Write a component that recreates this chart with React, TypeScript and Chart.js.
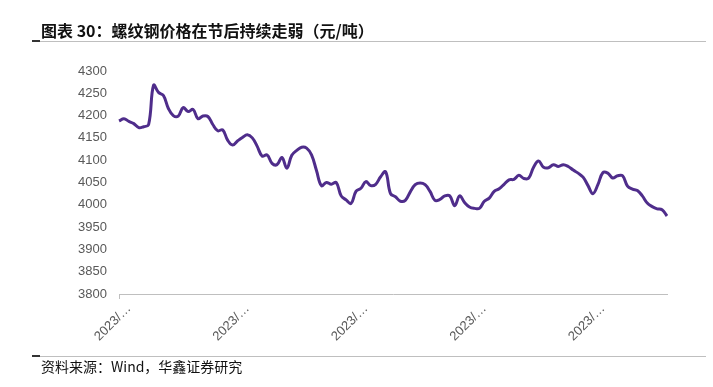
import React, { useEffect, useRef } from "react";
import { Chart, registerables } from "chart.js";

Chart.register(...registerables);

const TITLE = "图表 30：螺纹钢价格在节后持续走弱（元/吨）";
const SOURCE = "资料来源：Wind，华鑫证券研究";
const TICK_LABEL = "2023/…";
const TICK_EVERY = 24;
const Y_MIN = 3800;
const Y_MAX = 4300;
const Y_STEP = 50;

// Rebar price (yuan/ton)
const PRICES: number[] = [
  4188, 4193, 4187, 4182, 4173, 4175, 4180, 4268, 4252, 4245,
  4216, 4200, 4199, 4218, 4209, 4214, 4193, 4199, 4198, 4180,
  4166, 4168, 4145, 4134, 4143, 4151, 4157, 4150, 4131, 4109,
  4112, 4093, 4090, 4106, 4082, 4111, 4122, 4129, 4127, 4112,
  4077, 4043, 4050, 4046, 4050, 4020, 4011, 4003, 4030, 4037,
  4052, 4043, 4046, 4063, 4074, 4025, 4018, 4008, 4010, 4029,
  4045, 4049, 4045, 4030, 4010, 4012, 4020, 4020, 3998, 4020,
  4005, 3995, 3992, 3992, 4008, 4015, 4030, 4036, 4046, 4056,
  4057, 4066, 4059, 4060, 4085, 4098, 4084, 4083, 4090, 4086,
  4090, 4086, 4078, 4071, 4062, 4043, 4025, 4045, 4072, 4071,
  4060, 4065, 4065, 4042, 4035, 4032, 4020, 4004, 3996, 3991,
  3989, 3975,
];

// Category labels: trading days of 2023 (weekdays), one per price
const DATES: string[] = (() => {
  const out: string[] = [];
  const d = new Date(2023, 0, 30);
  while (out.length < PRICES.length) {
    const wd = d.getDay();
    if (wd !== 0 && wd !== 6) {
      out.push(`${d.getFullYear()}/${d.getMonth() + 1}/${d.getDate()}`);
    }
    d.setDate(d.getDate() + 1);
  }
  return out;
})();

const LINE_COLOR = "#4f2d8b";
const AXIS_COLOR = "#bfbfbf";
const TEXT_COLOR = "#595959";

export default function App() {
  const canvasRef = useRef<HTMLCanvasElement | null>(null);

  useEffect(() => {
    const canvas = canvasRef.current;
    if (!canvas) return;
    const chart = new Chart(canvas, {
      type: "line",
      data: {
        labels: DATES,
        datasets: [
          {
            data: PRICES,
            borderColor: LINE_COLOR,
            borderWidth: 3,
            pointRadius: 0,
            tension: 0.4,
            fill: false,
          },
        ],
      },
      options: {
        responsive: false,
        animation: false,
        layout: { padding: { top: 71, right: 46, left: 0, bottom: 0 } },
        plugins: {
          legend: { display: false },
          tooltip: { enabled: false },
          title: { display: false },
        },
        scales: {
          x: {
            type: "category",
            grid: {
              display: true,
              drawOnChartArea: false,
              drawTicks: true,
              tickLength: 5,
              color: (ctx: any) =>
                ctx.index % TICK_EVERY === 0 ? AXIS_COLOR : "rgba(0,0,0,0)",
            },
            border: { display: true, color: AXIS_COLOR, width: 1 },
            ticks: {
              autoSkip: false,
              maxRotation: 45,
              minRotation: 45,
              labelOffset: 10,
              padding: 2,
              color: TEXT_COLOR,
              font: { family: "'Liberation Sans', Arial, sans-serif", size: 13 },
              callback: (_v: any, i: number) =>
                i % TICK_EVERY === 0 ? TICK_LABEL : null,
            },
            afterFit: (s: any) => {
              s.height = 93;
            },
          },
          y: {
            min: Y_MIN,
            max: Y_MAX,
            grid: { display: false, drawTicks: false },
            border: { display: false },
            ticks: {
              stepSize: Y_STEP,
              padding: 12,
              color: TEXT_COLOR,
              font: { family: "'Liberation Sans', Arial, sans-serif", size: 13 },
              callback: (v: any) => String(v),
            },
            afterFit: (s: any) => {
              s.width = 119;
            },
          },
        },
      },
    });
    return () => chart.destroy();
  }, []);

  return (
    <div
      style={{
        position: "fixed",
        left: 0,
        top: 0,
        width: 713,
        height: 387,
        background: "#ffffff",
        overflow: "hidden",
      }}
    >
      <canvas
        ref={canvasRef}
        width={713}
        height={387}
        style={{ position: "absolute", left: 0, top: 0 }}
      />
      <div
        style={{
          position: "absolute",
          left: 41,
          top: 20,
          fontFamily: "'Noto Sans CJK SC', sans-serif",
          fontWeight: 700,
          fontSize: 16,
          lineHeight: "20px",
          color: "#111111",
          whiteSpace: "nowrap",
        }}
      >
        {TITLE}
      </div>
      <div style={{ position: "absolute", left: 32, top: 40, width: 8, height: 2, background: "#333333" }} />
      <div style={{ position: "absolute", left: 40, top: 41, width: 666, height: 1, background: "#bfbfbf" }} />
      <div style={{ position: "absolute", left: 32, top: 355, width: 8, height: 2, background: "#333333" }} />
      <div style={{ position: "absolute", left: 40, top: 356, width: 666, height: 1, background: "#bfbfbf" }} />
      <div
        style={{
          position: "absolute",
          left: 41,
          top: 357,
          fontFamily: "'Noto Sans CJK SC', sans-serif",
          fontSize: 14,
          lineHeight: "18px",
          color: "#111111",
          whiteSpace: "nowrap",
        }}
      >
        {SOURCE}
      </div>
    </div>
  );
}
